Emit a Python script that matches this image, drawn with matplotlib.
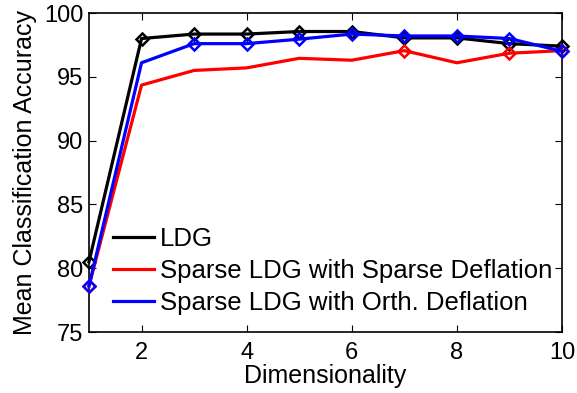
import matplotlib
matplotlib.use('Agg')
from matplotlib import pyplot as plt

dims = [1, 2, 3, 4, 5, 6, 7, 8, 9, 10]
ldg = [80.5, 98.0, 98.35, 98.35, 98.55, 98.55, 98.05, 98.05, 97.6, 97.4]
sparse_defl = [78.6, 94.35, 95.5, 95.7, 96.45, 96.3, 97.05, 96.1, 96.85, 97.05]
orth_defl = [78.6, 96.1, 97.6, 97.6, 97.95, 98.35, 98.2, 98.2, 98.0, 97.0]
labels = ['LDG', 'Sparse LDG with Sparse Deflation', 'Sparse LDG with Orth. Deflation']

plt.rcParams['font.family'] = ['Liberation Sans', 'DejaVu Sans']
fig = plt.figure(figsize=(5.77, 3.93), dpi=100)
ax = fig.add_axes([0.1542, 0.1552, 0.8198, 0.8117])

ax.plot(dims, ldg, color='k', lw=2.3, marker='D', ms=6.5, mfc='none', mew=1.8,
        markevery=list(range(10)), label=labels[0], clip_on=False, zorder=3)
ax.plot(dims, sparse_defl, color='r', lw=2.3, marker='D', ms=6.5, mfc='none', mew=1.8,
        markevery=[0, 6, 8, 9], label=labels[1], clip_on=False, zorder=3)
ax.plot(dims, orth_defl, color='b', lw=2.3, marker='D', ms=6.5, mfc='none', mew=1.8,
        markevery=[0, 2, 3, 4, 5, 6, 7, 8, 9], label=labels[2], clip_on=False, zorder=3)

ax.set_xlim(1, 10); ax.set_ylim(75, 100)
ax.set_xticks([2, 4, 6, 8, 10]); ax.set_yticks([75, 80, 85, 90, 95, 100])
ax.tick_params(direction='in', top=True, right=True, labelsize=17, length=5, pad=4)
ax.tick_params(axis='x', pad=7.5)
ax.set_xlabel('Dimensionality', fontsize=18, labelpad=0)
ax.set_ylabel('Mean Classification Accuracy', fontsize=18, labelpad=5)
for s in ax.spines.values(): s.set_linewidth(1.2)

leg = ax.legend(loc='lower left', bbox_to_anchor=(0.05, 0.053), frameon=False, fontsize=18.5,
                handlelength=1.6, handletextpad=0.23, labelspacing=0.32, borderaxespad=0.0,
                borderpad=0)
for l in leg.get_lines(): l.set_marker('')

fig.savefig('out.png', dpi=100)
